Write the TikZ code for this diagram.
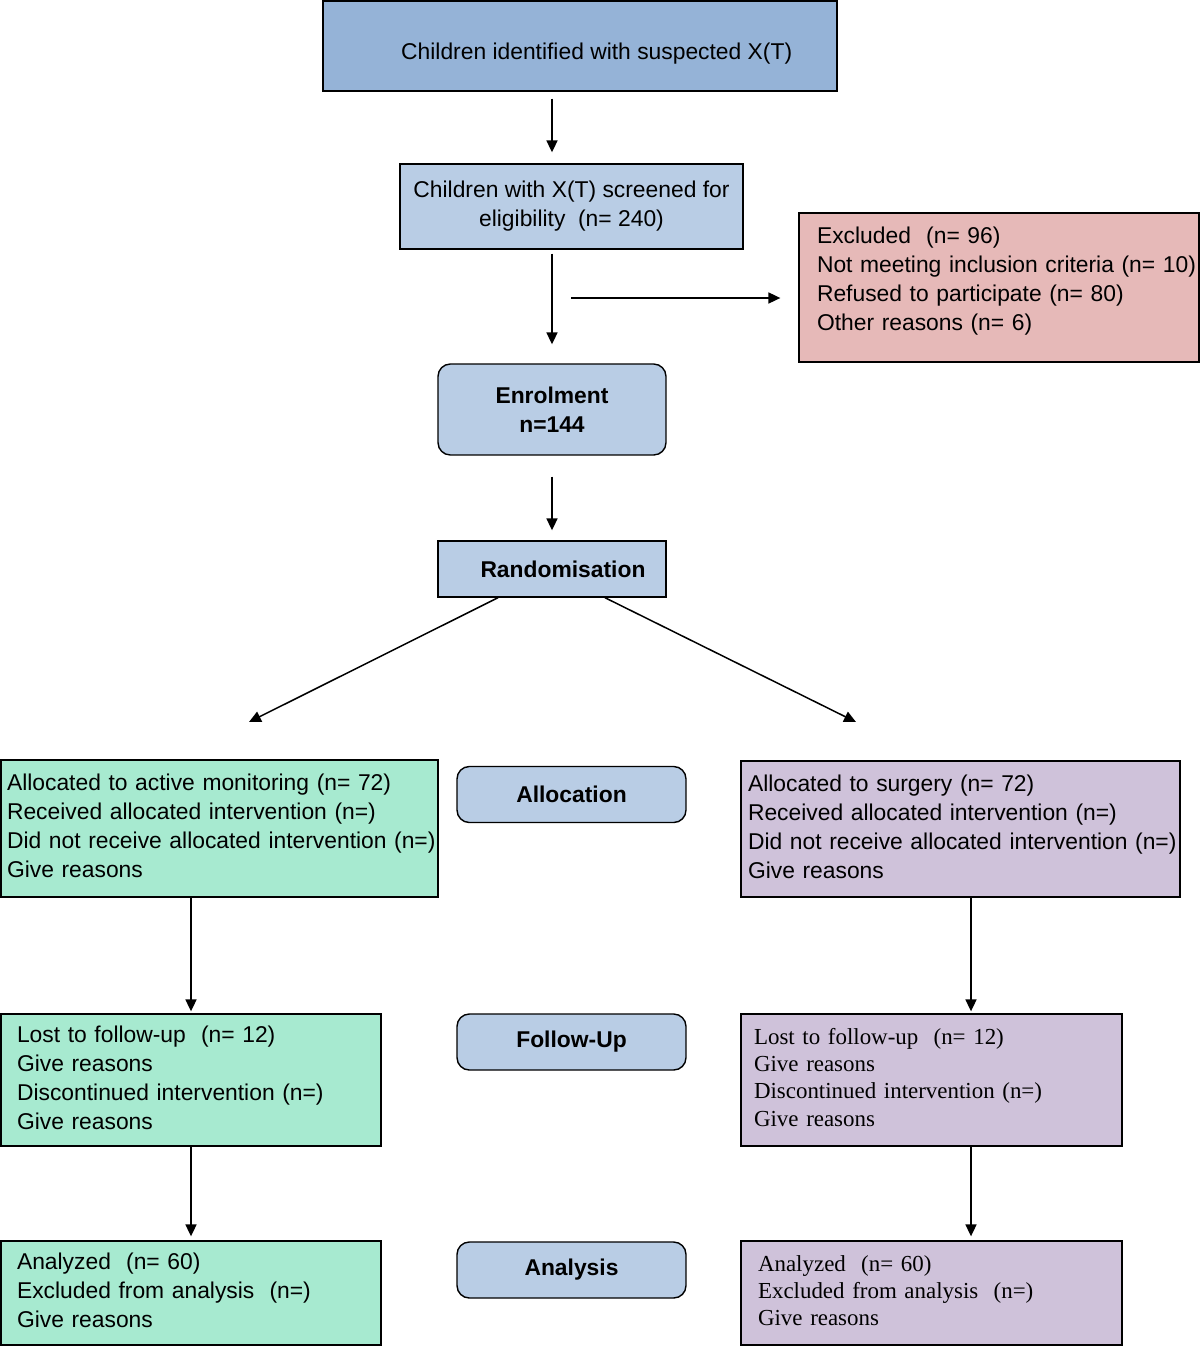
\documentclass[tikz,border=0pt]{standalone}
\usepackage{fontspec}
\setmainfont{Liberation Sans}
\newfontfamily\timesfont{Liberation Serif}
\usepackage{xcolor}
\usetikzlibrary{positioning}
\usetikzlibrary{arrows.meta}
\usetikzlibrary{calc}
\definecolor{topblue}{HTML}{95B3D7}
\definecolor{paleblue}{HTML}{B9CDE5}
\definecolor{exclpink}{HTML}{E6B9B8}
\definecolor{armgreen}{HTML}{A7EAD0}
\definecolor{armlilac}{HTML}{CFC2DA}
\setlength{\parindent}{0pt}
\newcommand{\boxfont}{\fontsize{13}{16.5}\selectfont}
\newcommand{\serifbox}{\timesfont\fontsize{13.05}{15.4}\selectfont}
\newcommand{\boxlines}[1]{\begin{tabular}{@{}l@{}}#1\end{tabular}}
\tikzset{flowbox/.style={draw, line width=0.8pt, font=\boxfont, align=left, inner ysep=0pt},
stagebox/.style={flowbox, fill=paleblue, rounded corners=7pt, align=center,
font=\boxfont\bfseries, minimum width=4.58cm, minimum height=1.12cm},
flowarrow/.style={-{Triangle[length=6.8pt,width=6.3pt]}, line width=0.85pt}}

\begin{document}
\begin{tikzpicture}[x=0.02cm, y=-0.02cm, greenbox/.style={flowbox, fill=armgreen}, lilacbox/.style={flowbox, fill=armlilac}]

				\useasboundingbox (0,0) rectangle (1200,1346);
				\node[flowbox, fill=topblue, align=center, text height=17pt, text depth=1.1pt, minimum width=10.28cm, minimum height=1.8cm] (top) at (580,46)
					{\hspace*{19pt}Children identified with suspected X(T)};
				\node[flowbox, fill=paleblue, align=center, minimum width=6.86cm, minimum height=1.7cm] (screen) at (571.5,206.5)
					{Children with X(T) screened for\\eligibility\ \ (n= 240)};
				\node[flowbox, fill=exclpink, text width=7.28cm, inner xsep=0.36cm, minimum height=2.98cm] (excl) at (999,287.5)
					{\boxlines{Excluded\ \ (n= 96)\\Not meeting inclusion criteria (n= 10)\\Refused to participate (n= 80)\\Other reasons (n= 6)\\[6.9pt]}};
				\node[stagebox, minimum width=4.56cm, minimum height=1.82cm] (enrol) at (552,409.5) {Enrolment\\n=144};
				\node[stagebox, sharp corners, minimum width=4.56cm] (rand) at (552,569) {\hspace*{12.5pt}Randomisation};

				\node[greenbox, text width=8.5cm, inner xsep=0.12cm, minimum height=2.74cm] (allocL) at (219.5,828.5)
					{\boxlines{Allocated to active monitoring (n= 72)\\Received allocated intervention (n=)\\Did not receive allocated intervention (n=)\\Give reasons}};
				\node[stagebox] (allocC) at (571.5,794.5) {Allocation};
				\node[lilacbox, text width=8.5cm, inner xsep=0.14cm, minimum height=2.72cm] (allocR) at (960.5,829)
					{\boxlines{Allocated to surgery (n= 72)\\Received allocated intervention (n=)\\Did not receive allocated intervention (n=)\\Give reasons}};

				\node[greenbox, text width=6.96cm, inner xsep=0.32cm, minimum height=2.64cm] (fuL) at (191,1080)
					{\boxlines{Lost to follow-up\ \ (n= 12)\\Give reasons\\Discontinued intervention (n=)\\Give reasons}};
				\node[stagebox] (fuC) at (571.5,1042) {Follow-Up};
				\node[lilacbox, font=\serifbox, text width=7.1cm, inner xsep=0.26cm, minimum height=2.64cm] (fuR) at (931.5,1080)
					{\boxlines{Lost to follow-up\ \ (n= 12)\\Give reasons\\Discontinued intervention (n=)\\Give reasons}};

				\node[greenbox, text width=6.96cm, inner xsep=0.32cm, minimum height=2.08cm] (anL) at (191,1293)
					{\boxlines{Analyzed\ \ (n= 60)\\Excluded from analysis\ \ (n=)\\Give reasons}};
				\node[stagebox] (anC) at (571.5,1270) {Analysis};
				\node[lilacbox, font=\serifbox, text width=6.94cm, inner xsep=0.34cm, minimum height=2.08cm] (anR) at (931.5,1293)
					{\boxlines{Analyzed\ \ (n= 60)\\Excluded from analysis\ \ (n=)\\Give reasons}};

				\coordinate (split) at (571,298);
				\coordinate (armL) at (249,722);
				\coordinate (armR) at (856,722);
				\coordinate (colL) at (191,0);
				\coordinate (colR) at (971,0);

				\draw[flowarrow, shorten <=7*0.02cm, shorten >=11*0.02cm] (top.south -| rand) -- (screen.north -| rand);
				\draw[flowarrow, shorten <=4*0.02cm, shorten >=19*0.02cm] (screen.south -| rand) -- (enrol.north);
				\draw[flowarrow, shorten >=18*0.02cm] (split) -- (split -| excl.west);
				\draw[flowarrow, shorten <=21*0.02cm, shorten >=10*0.02cm] (enrol.south) -- (rand.north);
				\draw[flowarrow] ($(rand.south)+(-54,0)$) -- (armL);
				\draw[flowarrow] ($(rand.south)+(53,0)$) -- (armR);
				\draw[flowarrow, shorten >=2*0.02cm] (allocL.south -| colL) -- (fuL.north -| colL);
				\draw[flowarrow, shorten >=2*0.02cm] (allocR.south -| colR) -- (fuR.north -| colR);
				\draw[flowarrow, shorten >=4*0.02cm] (fuL.south -| colL) -- (anL.north -| colL);
				\draw[flowarrow, shorten >=4*0.02cm] (fuR.south -| colR) -- (anR.north -| colR);
			\end{tikzpicture}
\end{document}
